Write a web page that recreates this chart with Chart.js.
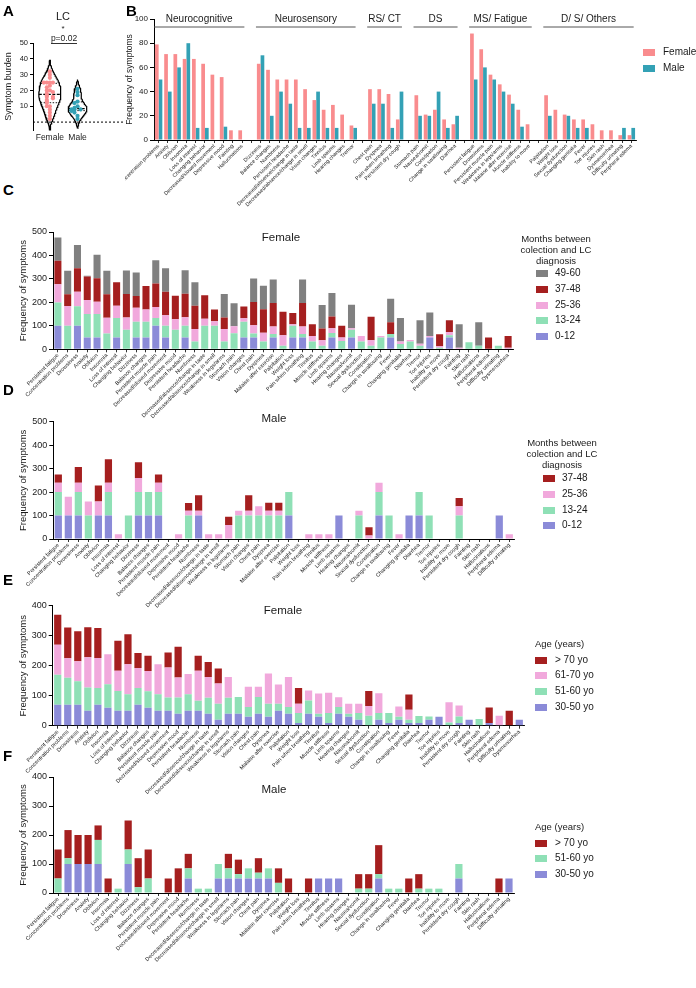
<!DOCTYPE html>
<html><head><meta charset="utf-8"><title>Long COVID symptoms</title>
<script src="https://cdn.jsdelivr.net/npm/chart.js@4.4.1/dist/chart.umd.min.js"></script>
<style>
html,body{margin:0;padding:0;background:#fff;}
body{width:696px;height:988px;position:relative;overflow:hidden;font-family:"Liberation Sans",Arial,Helvetica,sans-serif;color:#1a1a1a;}
canvas{position:absolute;}
.t{position:absolute;white-space:nowrap;line-height:1;}
.sw{position:absolute;}
</style></head><body>
<script>
// ---------------- DATA ----------------
// Panel A: symptom burden per patient
const lcFemale = [32,30,28,25,25,25,25,23,22,20,20,19,18,17,16,16,15,14,13,12,10,10,8,6,4,2];
const lcMale = [21,19,17,13,12,10,9,8,8,8,7,6,4,2];

// Panel B: groups
const bGroupNames = ['Neurocognitive','Neurosensory','RS/ CT','DS','MS/ Fatigue','D/ S/ Others'];
const bNeuroCog = ['Concentration problems','Anxiety','Oblivion','Insomnia','Loss of interest','Changing behavior','Decreased/slowed movement','Depressive mood','Fainting','Hallucinations'];
const bNeuroSens = ['Dizziness','Balance changes','Numbness','Persistent headache','Decreased/absence/change in taste','Decreased/absence/change in smell','Vision changes','Tinnitus','Limb spasms','Hearing changes','Tremor'];
const bRsCt = ['Chest pain','Dyspnea','Pain when breathing','Persistent dry cough'];
const bDs = ['Stomach pain','Nausea/vomit','Constipation','Change in swallowing','Diarrhea'];
const bMs = ['Persistent fatigue','Drowsiness','Persistent muscle pain','Weakness in legs/arms','Malaise after exercise','Muscle stiffness','Inability to move'];
const bOthers = ['Palpitation','Weight loss','Sexual dysfunction','Changing genitalia','Fever','Toe injuries','Skin rash','Dysmenorrhea','Difficulty urinating','Peripheral edema'];
const bFemale = [[79,71,71,67,67,63,54,52,8,8],[63,58,50,50,50,42,33,25,29,21,12],[42,42,38,17],[37,21,25,17,13],[88,75,54,46,37.5,25,13],[37,25,21,17,17,13,8,8,4,4]];
const bMale = [[50,40,60,80,10,10,0,11,0,0],[70,20,40,30,10,10,40,10,10,0,10],[30,30,10,40],[20,20,40,10,20],[50,60,50,40,30,11,0],[20,0,20,10,10,0,0,0,10,10]];

// Panels C-F: symptom order
const symptomsFemale = ['Persistent fatigue','Concentration problems','Drowsiness','Anxiety','Oblivion','Insomnia','Loss of interest','Changing behavior','Dizziness','Balance changes','Persistent muscle pain','Decreased/slowed movement','Depressive mood','Persistent headache','Numbness','Decreased/absence/change in taste','Decreased/absence/change in smell','Weakness in legs/arms','Stomach pain','Vision changes','Chest pain','Dyspnea','Malaise after exercise','Palpitation','Weight loss','Pain when breathing','Tinnitus','Muscle stiffness','Limb spasms','Hearing changes','Nausea/vomit','Sexual dysfunction','Constipation','Change in swallowing','Fever','Changing genitalia','Diarrhea','Tremor','Toe injuries','Inability to move','Persistent dry cough','Fainting','Skin rash','Hallucinations','Peripheral edema','Difficulty urinating','Dysmenorrhea'];
const symptomsMale = symptomsFemale.slice(0, 46);

// Panel C: female, months between collection and LC diagnosis
const cM0_12  = [100,0,100,50,50,0,50,0,50,50,100,50,0,50,0,0,0,0,0,50,50,0,50,0,50,50,0,0,50,0,50,0,0,0,50,0,0,0,50,0,50,0,0,0,0,0,0];
const cM13_24 = [100,100,83,100,100,67,83,83,67,67,33,50,83,50,33,100,100,33,68,67,17,33,15,15,50,15,33,15,19,35,33,33,15,50,15,23,33,15,0,7,10,0,30,15,0,15,0];
const cM25_36 = [77,85,62,60,53,68,53,53,60,53,47,45,45,37,53,30,20,53,30,15,35,38,32,45,7,32,24,24,21,15,7,24,24,7,0,10,7,9,7,7,14,7,0,0,0,0,7];
const cM37_48 = [100,50,100,100,100,100,100,100,50,100,100,100,100,100,100,100,50,50,0,50,100,100,100,100,48,100,50,50,50,50,0,0,100,0,50,0,0,0,0,50,50,0,0,0,50,0,50];
const cM49_60 = [100,100,100,3,100,100,0,100,100,0,100,100,0,100,100,0,0,100,98,0,100,100,100,0,0,100,0,100,100,0,100,0,0,0,100,100,0,100,100,0,0,100,0,100,0,0,0];

// Panel D: male, months
const dM0_12  = [100,100,100,0,100,100,0,0,100,100,100,0,0,0,100,0,0,0,0,0,0,0,0,100,0,0,0,0,100,0,0,0,100,0,0,100,100,0,0,0,0,0,0,0,100,0];
const dM13_24 = [100,0,100,100,0,100,0,100,100,100,100,0,0,100,0,0,0,0,100,100,100,100,100,100,0,0,0,0,0,0,100,0,100,100,0,0,100,100,0,0,100,0,0,0,0,0];
const dM25_36 = [40,80,40,60,60,40,20,0,60,0,40,0,20,20,20,20,20,60,20,20,40,20,20,0,0,20,20,20,0,0,20,15,40,0,20,0,0,0,0,0,40,0,0,0,0,20];
const dM37_48 = [35,0,67,0,68,100,0,0,67,0,35,0,0,33,67,0,0,35,0,67,0,35,35,0,0,0,0,0,0,0,0,35,0,0,0,0,0,0,0,0,35,0,0,0,0,0];

// Panel E: female, age
const eAge30_50 = [70,70,70,50,70,60,50,50,70,60,50,50,40,50,50,40,20,40,40,30,40,30,50,40,9,40,30,9,40,30,20,0,20,9,20,9,9,20,30,0,9,20,0,9,0,0,20];
const eAge51_60 = [100,90,78,77,56,78,66,55,56,55,55,44,54,55,33,53,53,53,56,32,56,43,23,22,33,44,10,33,22,10,22,33,22,33,10,11,23,11,0,11,22,0,22,0,0,0,0];
const eAge61_70 = [100,65,67,101,100,100,67,100,66,67,100,100,67,67,100,69,68,69,0,68,34,101,64,100,31,33,67,68,33,33,31,33,66,0,34,33,0,0,0,67,36,0,0,0,33,0,0];
const eAge70    = [100,102,100,100,100,0,100,100,50,51,0,50,102,0,50,50,50,0,0,0,0,0,0,0,53,0,0,0,0,0,0,50,0,0,0,51,0,0,0,0,0,0,0,52,0,50,0];

// Panel F: male, age
const fAge30_50 = [0,100,100,100,100,0,0,100,0,0,0,0,0,50,0,0,50,50,50,50,50,50,0,0,0,0,50,50,50,0,0,0,50,0,0,0,0,0,0,0,50,0,0,0,0,50];
const fAge51_60 = [50,20,0,0,83,0,15,50,20,50,0,0,0,35,15,15,50,35,15,35,20,35,35,0,0,0,0,0,0,0,15,15,15,15,15,0,15,15,15,0,50,0,0,0,0,0];
const fAge70    = [100,97,100,100,50,50,0,100,100,100,0,50,85,50,0,0,0,50,50,0,50,0,50,50,0,50,0,0,0,0,50,50,100,0,0,50,50,0,0,0,0,0,0,0,50,0];

const monthTicks = [0,100,200,300,400,500];
const ageTicks = [0,100,200,300,400];

// ---------------- STYLE ----------------
const FONT = '"Liberation Sans", Arial, Helvetica, sans-serif';
Chart.defaults.font.family = FONT;
Chart.defaults.color = '#1a1a1a';
Chart.defaults.animation = false;
const cBlue = '#8b8bd8', cGreen = '#8fe0b6', cPink = '#f1a9dc', cRed = '#a51f1f', cGray = '#808080';
const cFemale = '#f98c8e', cMale = '#33a1b5';

// ---------------- HELPERS ----------------
function addText(str, x, y, size, o) {
  o = o || {};
  const d = document.createElement('div');
  d.className = 't';
  d.textContent = str;
  d.style.fontSize = size + 'px';
  d.style.left = x + 'px';
  d.style.top = y + 'px';
  d.style.transform = 'translate(' + (o.center ? '-50%' : '0') + ',-50%)';
  if (o.bold) d.style.fontWeight = 'bold';
  if (o.color) d.style.color = o.color;
  document.body.appendChild(d);
}
function addBox(x, y, w, h, color) {
  const d = document.createElement('div');
  d.className = 'sw';
  d.style.left = x + 'px'; d.style.top = y + 'px';
  d.style.width = w + 'px'; d.style.height = h + 'px';
  d.style.background = color;
  document.body.appendChild(d);
}
function mkCanvas(g) {
  const c = document.createElement('canvas');
  c.width = g.w; c.height = g.h;
  c.style.left = g.left + 'px'; c.style.top = g.top + 'px';
  c.style.width = g.w + 'px'; c.style.height = g.h + 'px';
  document.body.appendChild(c);
  return c;
}
function catX(g, size, stacked) {
  return {
    type: 'category', stacked: stacked, offset: true,
    grid: {display: true, drawOnChartArea: false, drawTicks: true, tickLength: 3, offset: false, color: '#000', lineWidth: 0.8},
    border: {display: true, color: '#000', width: 1},
    ticks: {autoSkip: false, minRotation: 45, maxRotation: 45, font: {size: size}, padding: 0, color: '#1a1a1a'},
    afterFit(s) { s.height = g.xH; s.paddingLeft = 0; s.paddingRight = 0; }
  };
}
function linY(g, max, step, title, tSize, titleSize, stacked, tickVals) {
  return {
    type: 'linear', stacked: stacked, min: 0, max: max,
    ticks: {stepSize: step, font: {size: tSize}, padding: 2, color: '#1a1a1a'},
    afterBuildTicks(s) { if (tickVals) s.ticks = tickVals.map(v => ({value: v})); },
    grid: {display: true, drawOnChartArea: false, drawTicks: true, tickLength: 4, color: '#000', lineWidth: 1},
    border: {display: true, color: '#000', width: 1},
    title: {display: true, text: title, font: {size: titleSize}, padding: 0, color: '#1a1a1a'},
    afterFit(s) { s.width = g.yW; s.paddingTop = 0; s.paddingBottom = 0; }
  };
}
function baseOpts(g) {
  return {
    responsive: false, animation: false, devicePixelRatio: 1,
    layout: {padding: {top: g.padT, right: g.padR, left: 0, bottom: 0}},
    plugins: {legend: {display: false}, tooltip: {enabled: false}, title: {display: false}}
  };
}
function stackChart(g, labels, series, names, colors, max, ticks) {
  const c = mkCanvas(g);
  const opts = baseOpts(g);
  opts.scales = {x: catX(g, 5.5, true), y: linY(g, max, 100, 'Frequency of symptoms', 9, 9.5, true, ticks)};
  new Chart(c, {
    type: 'bar',
    data: {labels: labels, datasets: series.map((s, i) => ({
      label: names[i], data: s, backgroundColor: colors[i], borderWidth: 0,
      barPercentage: 0.72, categoryPercentage: 1.0
    }))},
    options: opts
  });
}
function legend(items, boxX, textX, ys, size) {
  items.forEach((it, i) => {
    addBox(boxX, ys[i] - 3.5, 12, 7, it[1]);
    addText(it[0], textX, ys[i], size);
  });
}

// ---------------- PANEL A (violin) ----------------
function kde(vals, h, y) {
  let s = 0;
  for (const v of vals) { const u = (y - v) / h; s += Math.exp(-0.5 * u * u); }
  return s / (vals.length * h * Math.sqrt(2 * Math.PI));
}
function violin(vals, center, h, halfW) {
  const lo = Math.min(...vals) - 2 * h, hi = Math.max(...vals) + 2 * h;
  const n = 80, ys = [];
  for (let i = 0; i <= n; i++) ys.push(lo + (hi - lo) * i / n);
  const ds = ys.map(y => kde(vals, h, y));
  const mx = Math.max(...ds);
  const wOf = y => kde(vals, h, y) / mx * halfW;
  const right = ys.map((y, i) => ({x: center + ds[i] / mx * halfW, y: y}));
  const left = ys.map((y, i) => ({x: center - ds[i] / mx * halfW, y: y})).reverse();
  return {outline: right.concat(left).concat([right[0]]), wOf: wOf};
}
function quant(vals, q) {
  const s = vals.slice().sort((a, b) => a - b);
  const pos = (s.length - 1) * q, b = Math.floor(pos), r = pos - b;
  return s[b + 1] !== undefined ? s[b] + r * (s[b + 1] - s[b]) : s[b];
}
function swarm(vals, center) {
  const pts = [];
  vals.forEach((v, i) => {
    let n = 0;
    for (let j = 0; j < i; j++) if (Math.abs(vals[j] - v) < 1.6) n++;
    const off = (n === 0 ? 0 : (n % 2 ? -1 : 1) * Math.ceil(n / 2)) * 0.11;
    pts.push({x: center + off, y: v});
  });
  return pts;
}
(function panelA() {
  const g = {left: 3, top: 0, w: 125, h: 150, yW: 30, xH: 20, padT: 43, padR: 3};
  const c = mkCanvas(g);
  const vf = violin(lcFemale, 1, 3.5, 0.4);
  const vm = violin(lcMale, 2, 3.0, 0.34);
  const qLines = [];
  [[lcFemale, 1, vf], [lcMale, 2, vm]].forEach(([vals, cx, v]) => {
    [0.25, 0.5, 0.75].forEach(q => {
      const y = quant(vals, q), w = v.wOf(y);
      qLines.push({data: [{x: cx - w, y: y}, {x: cx + w, y: y}], showLine: true, pointRadius: 0,
        borderColor: '#000', borderWidth: q === 0.5 ? 1.1 : 0.9, borderDash: q === 0.5 ? [3, 1.5] : [1.5, 1.5], clip: false});
    });
  });
  const opts = baseOpts(g);
  opts.scales = {
    x: {type: 'linear', min: 0.39, max: 3.68,
      afterBuildTicks(s) { s.ticks = [{value: 1}, {value: 2}]; },
      ticks: {font: {size: 8.5}, padding: -5, color: '#1a1a1a', callback: v => v === 1 ? 'Female' : (v === 2 ? 'Male' : '')},
      grid: {display: false}, border: {display: false},
      afterFit(s) { s.height = g.xH; s.paddingLeft = 0; s.paddingRight = 0; }},
    y: {type: 'linear', min: -5, max: 50,
      ticks: {stepSize: 10, font: {size: 7.5}, padding: 2, color: '#1a1a1a'},
      afterBuildTicks(s) { s.ticks = s.ticks.filter(t => t.value >= 0); },
      grid: {display: true, drawOnChartArea: false, tickLength: 3, color: '#000'},
      border: {display: true, color: '#000', width: 1},
      title: {display: true, text: 'Symptom burden', font: {size: 9}, padding: 0, color: '#1a1a1a'},
      afterFit(s) { s.width = g.yW; s.paddingTop = 0; s.paddingBottom = 0; }}
  };
  new Chart(c, {
    type: 'scatter',
    data: {datasets: [
      {label: 'Female', data: swarm(lcFemale, 1), pointRadius: 2.1, pointBackgroundColor: cFemale, pointBorderWidth: 0, clip: false},
      {label: 'Male', data: swarm(lcMale, 2), pointRadius: 2.1, pointBackgroundColor: cMale, pointBorderWidth: 0, clip: false},
      ...qLines,
      {data: vf.outline, showLine: true, pointRadius: 0, borderColor: '#000', borderWidth: 1.2, fill: false, clip: false},
      {data: vm.outline, showLine: true, pointRadius: 0, borderColor: '#000', borderWidth: 1.2, fill: false, clip: false}
    ]},
    options: opts,
    plugins: [{id: 'zeroLine', beforeDatasetsDraw(ch) {
      const ctx = ch.ctx, y = ch.scales.y.getPixelForValue(0), a = ch.chartArea;
      ctx.save(); ctx.strokeStyle = '#000'; ctx.lineWidth = 1; ctx.setLineDash([2, 2]);
      ctx.beginPath(); ctx.moveTo(a.left, y); ctx.lineTo(a.right, y); ctx.stroke(); ctx.restore();
    }}]
  });
  addText('A', 3, 10, 15, {bold: true, color: '#000'});
  addText('LC', 63, 16, 11, {center: true});
  addText('*', 63, 29, 8, {center: true});
  addText('p=0.02', 64, 38, 8.5, {center: true});
  const ln = document.createElement('div');
  ln.style.cssText = 'position:absolute;left:51px;top:43px;width:26px;height:0;border-top:1px solid #333;';
  document.body.appendChild(ln);
})();

// ---------------- PANEL B (grouped bars) ----------------
(function panelB() {
  const g = {left: 125, top: 0, w: 571, h: 215, yW: 29, xH: 75, padT: 19, padR: 60};
  const groups = [bNeuroCog, bNeuroSens, bRsCt, bDs, bMs, bOthers];
  const labels = [], fem = [], mal = [], ranges = [];
  groups.forEach((grp, gi) => {
    if (gi > 0) { labels.push(''); fem.push(null); mal.push(null); }
    const s = labels.length;
    grp.forEach((lab, i) => { labels.push(lab); fem.push(bFemale[gi][i]); mal.push(bMale[gi][i]); });
    ranges.push([s, labels.length - 1]);
  });
  const c = mkCanvas(g);
  const opts = baseOpts(g);
  opts.scales = {x: catX(g, 5.3, false), y: linY(g, 100, 20, 'Frequency of symptoms', 8, 8.5, false, null)};
  new Chart(c, {
    type: 'bar',
    data: {labels: labels, datasets: [
      {label: 'Female', data: fem, backgroundColor: cFemale, barPercentage: 1.0, categoryPercentage: 0.8},
      {label: 'Male', data: mal, backgroundColor: cMale, barPercentage: 1.0, categoryPercentage: 0.8}
    ]},
    options: opts,
    plugins: [{id: 'groupHeads', afterDraw(ch) {
      const ctx = ch.ctx, xs = ch.scales.x, a = ch.chartArea;
      const slot = xs.getPixelForValue(1) - xs.getPixelForValue(0);
      ctx.save();
      ranges.forEach((r, i) => {
        const x1 = xs.getPixelForValue(r[0]) - slot * 0.5, x2 = xs.getPixelForValue(r[1]) + slot * 0.25;
        ctx.strokeStyle = '#555'; ctx.lineWidth = 1;
        ctx.beginPath(); ctx.moveTo(x1, a.top + 8); ctx.lineTo(x2, a.top + 8); ctx.stroke();
        ctx.fillStyle = '#1a1a1a'; ctx.font = '10px ' + FONT; ctx.textAlign = 'center'; ctx.textBaseline = 'middle';
        ctx.fillText(bGroupNames[i], (x1 + x2) / 2, a.top);
      });
      ctx.restore();
    }}]
  });
  addText('B', 126, 10, 15, {bold: true, color: '#000'});
  legend([['Female', cFemale], ['Male', cMale]], 643, 663, [52, 68], 10);
})();

// ---------------- PANEL C ----------------
stackChart({left: 18, top: 200, w: 678, h: 225, yW: 35, xH: 75.7, padT: 32, padR: 183},
  symptomsFemale, [cM0_12, cM13_24, cM25_36, cM37_48, cM49_60],
  ['0-12', '13-24', '25-36', '37-48', '49-60'], [cBlue, cGreen, cPink, cRed, cGray], 500, monthTicks);
addText('C', 3, 189, 15, {bold: true, color: '#000'});
addText('Female', 281, 238, 11.5, {center: true});
addText('Months between', 556, 239, 9.5, {center: true});
addText('colection and LC', 556, 250, 9.5, {center: true});
addText('diagnosis', 556, 261, 9.5, {center: true});
legend([['49-60', cGray], ['37-48', cRed], ['25-36', cPink], ['13-24', cGreen], ['0-12', cBlue]], 536, 555, [273, 289, 305, 320, 336], 10);

// ---------------- PANEL D ----------------
stackChart({left: 18, top: 400, w: 678, h: 210, yW: 35.3, xH: 71, padT: 21.7, padR: 181.7},
  symptomsMale, [dM0_12, dM13_24, dM25_36, dM37_48],
  ['0-12', '13-24', '25-36', '37-48'], [cBlue, cGreen, cPink, cRed], 500, monthTicks);
addText('D', 3, 389, 15, {bold: true, color: '#000'});
addText('Male', 274, 419, 11.5, {center: true});
addText('Months between', 562, 443, 9.5, {center: true});
addText('colection and LC', 562, 454, 9.5, {center: true});
addText('diagnosis', 562, 465, 9.5, {center: true});
legend([['37-48', cRed], ['25-36', cPink], ['13-24', cGreen], ['0-12', cBlue]], 543, 562, [478, 494, 510, 525], 10);

// ---------------- PANEL E ----------------
stackChart({left: 18, top: 590, w: 678, h: 210, yW: 34.7, xH: 74.3, padT: 15.7, padR: 171.7},
  symptomsFemale, [eAge30_50, eAge51_60, eAge61_70, eAge70],
  ['30-50 yo', '51-60 yo', '61-70 yo', '> 70 yo'], [cBlue, cGreen, cPink, cRed], 400, ageTicks);
addText('E', 3, 579, 15, {bold: true, color: '#000'});
addText('Female', 283, 611, 11.5, {center: true});
addText('Age (years)', 535, 644, 9.5);
legend([['> 70 yo', cRed], ['61-70 yo', cPink], ['51-60 yo', cGreen], ['30-50 yo', cBlue]], 535, 555, [660, 675, 691, 707], 10);

// ---------------- PANEL F ----------------
stackChart({left: 18, top: 765, w: 678, h: 220, yW: 35, xH: 92, padT: 12, padR: 182},
  symptomsMale, [fAge30_50, fAge51_60, fAge70],
  ['30-50 yo', '51-60 yo', '> 70 yo'], [cBlue, cGreen, cRed], 400, ageTicks);
addText('F', 3, 755, 15, {bold: true, color: '#000'});
addText('Male', 274, 790, 11.5, {center: true});
addText('Age (years)', 535, 827, 9.5);
legend([['> 70 yo', cRed], ['51-60 yo', cGreen], ['30-50 yo', cBlue]], 535, 555, [843, 858, 874], 10);
</script>
</body></html>
